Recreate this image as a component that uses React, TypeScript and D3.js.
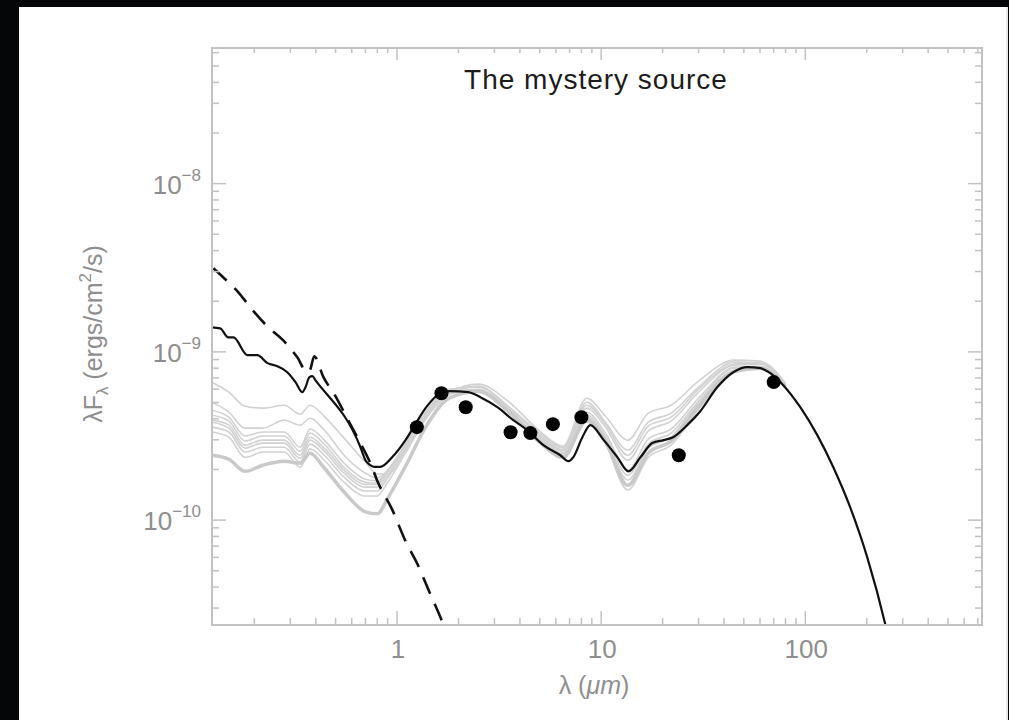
import * as d3 from "d3";

// wavelengths in microns, fluxes (lambda F_lambda) in units of 1e-10 ergs/cm^2/s
const FLUX_UNIT = 1e-10;

const xTickLabels = [1, 10, 100];
const yTickLabels = [-8, -9, -10];

// observed photometry (J H K, IRAC, MIPS)
const obsWavelength = [1.25, 1.65, 2.17, 3.6, 4.5, 5.8, 8.0, 24, 70];
const obsFlux = [3.57, 5.68, 4.69, 3.33, 3.29, 3.72, 4.09, 2.43, 6.61];

// best fit model (solid black)
const bestWavelength = [
  0.124, 0.136, 0.149, 0.158, 0.185, 0.207, 0.232, 0.259, 0.29, 0.318, 0.344, 0.356, 0.372, 0.385, 0.398,
  0.661, 0.7, 0.74, 0.774, 0.828, 0.948, 1.1, 1.23, 1.39, 1.63, 1.82, 2.23, 2.56, 3.1, 3.71, 4.34, 5.21,
  6.31, 6.9, 7.31, 8.09, 8.85, 10.3, 12.0, 13.6, 15.6, 17.8, 20.2, 22.5, 26.4, 30.6, 37.1, 44.4, 52.0,
  60.2, 67.4, 78.0, 94.5, 114.5, 137, 166, 201, 247, 270,
];
const bestFlux = [
  14.0, 13.8, 12.2, 12.2, 9.56, 9.56, 8.57, 8.22, 7.57, 6.61, 5.76, 6.17, 7.07, 7.17, 6.79,
  2.72, 2.27, 2.12, 2.07, 2.07, 2.37, 2.99, 3.72, 4.69, 5.68, 5.84, 5.76, 5.38, 4.69, 3.93, 3.43, 2.79,
  2.43, 2.24, 2.37, 3.11, 3.67, 2.99, 2.37, 1.95, 2.37, 2.87, 2.99, 3.11, 3.67, 4.44, 6.18, 7.57, 8.11,
  8.0, 7.47, 6.34, 4.69, 3.2, 2.07, 1.19, 0.603, 0.238, 0.147,
];

// stellar photosphere (dashed)
const starWavelength = [
  0.126, 0.144, 0.167, 0.191, 0.234, 0.277, 0.324, 0.363, 0.376, 0.393, 0.436, 0.499, 0.576, 0.661,
  0.74, 0.809, 0.948, 1.1, 1.26, 1.42, 1.69, 1.82,
];
const starFlux = [
  31.4, 27.0, 22.6, 18.4, 14.0, 11.7, 9.31, 7.57, 7.89, 9.42, 7.07, 5.46, 3.93, 2.87,
  2.18, 1.66, 1.15, 0.75, 0.547, 0.389, 0.238, 0.188,
];

// other acceptable fits (grey)
const greyWavelength = [
  0.124, 0.15, 0.18, 0.22, 0.28, 0.335, 0.375, 0.44, 0.55, 0.7, 0.8, 0.9, 1.1, 1.4,
  1.8, 2.5, 3.5, 5, 6.5, 8.5, 10.5, 13.5, 17, 22, 30, 45, 60, 80,
];
const greyModel1 = [6.6, 5.76, 4.75, 4.63, 4.82, 4.26, 4.82, 4.14, 3.07, 2.21, 1.88, 1.88, 2.61, 4.2, 5.92, 6.25, 4.75, 3.29, 2.68, 5.02, 3.82, 2.61, 3.82, 4.32, 6.17, 8.69, 8.57, 6.43];
const greyModel2 = [5.02, 4.38, 3.52, 3.52, 3.93, 3.67, 4.03, 3.43, 2.43, 1.9, 1.78, 1.98, 2.83, 4.5, 6.0, 6.17, 4.69, 3.16, 2.57, 4.63, 3.57, 2.27, 3.38, 3.88, 5.76, 8.34, 8.46, 6.34];
const greyModel3 = [4.5, 4.09, 3.16, 3.34, 3.34, 2.71, 3.48, 2.99, 2.18, 1.75, 1.71, 1.98, 2.83, 4.44, 5.84, 5.76, 4.38, 2.87, 2.33, 3.82, 2.83, 1.51, 2.36, 2.79, 4.56, 7.57, 7.89, 6.17];
const greyModel4 = [4.2, 3.88, 2.95, 3.16, 3.16, 2.57, 3.29, 2.83, 2.06, 1.68, 1.66, 1.95, 2.79, 4.38, 5.76, 5.92, 4.5, 2.95, 2.4, 4.09, 3.07, 1.73, 2.68, 3.11, 5.02, 7.78, 8.11, 6.25];
const greyModel5 = [3.93, 3.67, 2.79, 2.99, 2.99, 2.43, 3.11, 2.68, 1.98, 1.63, 1.63, 1.93, 2.79, 4.38, 5.76, 6.0, 4.56, 3.07, 2.5, 4.38, 3.29, 1.98, 3.03, 3.48, 5.3, 8.11, 8.22, 6.34];
const greyModel6 = [3.82, 3.52, 2.68, 2.87, 2.87, 2.33, 2.99, 2.57, 1.9, 1.57, 1.57, 1.85, 2.71, 4.32, 5.68, 6.43, 5.09, 3.38, 2.75, 5.3, 4.14, 2.99, 4.32, 4.82, 6.7, 8.93, 8.81, 6.52];
const greyModel7 = [3.57, 3.34, 2.54, 2.71, 2.71, 2.21, 2.83, 2.43, 1.8, 1.49, 1.49, 1.78, 2.61, 4.2, 5.61, 5.92, 4.5, 3.03, 2.46, 4.2, 3.16, 1.85, 2.83, 3.29, 5.09, 8.0, 8.11, 6.25];
const greyModel8 = [3.34, 3.11, 2.36, 2.54, 2.54, 2.06, 2.65, 2.27, 1.68, 1.39, 1.39, 1.68, 2.5, 4.09, 5.53, 6.25, 4.75, 3.2, 2.61, 4.82, 3.72, 2.43, 3.62, 4.09, 6.0, 8.46, 8.57, 6.43];
const greyModel9 = [2.43, 2.3, 1.95, 2.12, 2.24, 2.18, 2.5, 2.04, 1.47, 1.12, 1.09, 1.35, 2.09, 3.67, 5.3, 5.84, 4.44, 2.91, 2.36, 3.93, 2.95, 1.61, 2.5, 2.95, 4.75, 7.67, 8.0, 6.17];
const greyModels = [greyModel1, greyModel2, greyModel3, greyModel4, greyModel5, greyModel6, greyModel7, greyModel8, greyModel9];

const W = 1009;
const H = 720;
const left = 212, right = 982, top = 48, bottom = 625;
const axisColor = "#c2c2c2";
const labelColor = "#8e8e8e";
const font = "'Liberation Sans', Arial, sans-serif";

export default function App() {
  const x = d3.scaleLog().domain([0.124, 734]).range([left, right]);
  const y = d3.scaleLog().domain([2.38e-11, 6.4e-8]).range([bottom, top]);

  const smooth = d3
    .line<[number, number]>()
    .x((d) => x(d[0]))
    .y((d) => y(d[1] * FLUX_UNIT))
    .curve(d3.curveMonotoneX);
  const pair = (ws: number[], fs: number[]) => ws.map((w, i) => [w, fs[i]] as [number, number]);

  const isMajor = (v: number) => Math.abs(Math.log10(v) - Math.round(Math.log10(v))) < 1e-6;
  const xTicks = x.ticks();
  const yTicks = y.ticks();

  return (
    <svg width={W} height={H} style={{ position: "fixed", left: 0, top: 0, background: "#050608" }}>
      <defs>
        <clipPath id="plot">
          <rect x={left} y={top} width={right - left} height={bottom - top} />
        </clipPath>
      </defs>
      <rect x={19} y={7} width={989} height={H - 7} fill="#ffffff" />
      <line x1={1007} x2={1007} y1={7} y2={H} stroke="#e2e2e2" strokeWidth={1.5} />

      <g clipPath="url(#plot)" fill="none" strokeLinejoin="round">
        {greyModels.map((m, i) => (
          <path
            key={i}
            d={smooth(pair(greyWavelength, m)) || ""}
            stroke={i === 8 ? "#c9c9c9" : "#d2d2d2"}
            strokeWidth={i === 8 ? 3.5 : 1.6}
          />
        ))}
        <path
          d={smooth(pair(starWavelength, starFlux)) || ""}
          stroke="#111"
          strokeWidth={2.6}
          strokeDasharray="18,11"
        />
        <path d={smooth(pair(bestWavelength, bestFlux)) || ""} stroke="#111" strokeWidth={2.2} />
      </g>

      {obsWavelength.map((w, i) => (
        <circle key={i} cx={x(w)} cy={y(obsFlux[i] * FLUX_UNIT)} r={7} fill="#000" />
      ))}

      {/* frame */}
      <rect x={left} y={top} width={right - left} height={bottom - top} fill="none" stroke={axisColor} strokeWidth={2} />

      {/* ticks on all four sides */}
      <g stroke={axisColor} strokeWidth={1.5}>
        {xTicks.map((t, i) => {
          const len = isMajor(t) ? 14 : 7;
          return (
            <g key={i}>
              <line x1={x(t)} x2={x(t)} y1={bottom} y2={bottom - len} />
              <line x1={x(t)} x2={x(t)} y1={top} y2={top + len - 2} />
            </g>
          );
        })}
        {yTicks.map((t, i) => {
          const len = isMajor(t) ? 14 : 7;
          return (
            <g key={i}>
              <line x1={left} x2={left + len} y1={y(t)} y2={y(t)} />
              <line x1={right} x2={right - len} y1={y(t)} y2={y(t)} />
            </g>
          );
        })}
      </g>

      {/* tick labels */}
      <g fill={labelColor} fontFamily={font} fontSize={26}>
        {xTickLabels.map((t) => (
          <text key={t} x={x(t) + 1} y={658} textAnchor="middle">
            {t}
          </text>
        ))}
        {yTickLabels.map((e) => (
          <text key={e} x={201} y={y(Math.pow(10, e)) + 10} textAnchor="end">
            10
            <tspan dy={-13} fontSize={17}>
              {"\u2212" + Math.abs(e)}
            </tspan>
          </text>
        ))}
      </g>

      {/* axis titles */}
      <text x={594} y={694} textAnchor="middle" fill={labelColor} fontFamily={font} fontSize={25}>
        {"λ ("}
        <tspan fontStyle="italic">μm</tspan>
        {")"}
      </text>
      <text
        transform="translate(102,334) rotate(-90)"
        textAnchor="middle"
        fill={labelColor}
        fontFamily={font}
        fontSize={25}
      >
        λF
        <tspan dy={6} fontSize={17}>λ</tspan>
        <tspan dy={-6}>{" (ergs/cm"}</tspan>
        <tspan dy={-11} fontSize={17}>2</tspan>
        <tspan dy={11}>/s)</tspan>
      </text>

      <text
        x={596}
        y={89}
        textAnchor="middle"
        fill="#1c1c1c"
        fontFamily={font}
        fontSize={28}
        letterSpacing={1}
      >
        The mystery source
      </text>
    </svg>
  );
}
